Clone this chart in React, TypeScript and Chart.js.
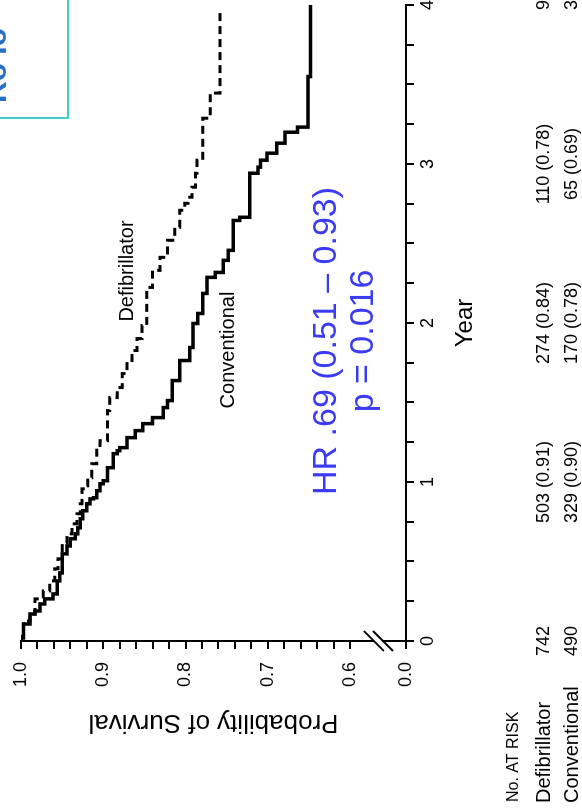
import React, { useEffect, useRef } from 'react';
import { Chart, registerables } from 'chart.js';

Chart.register(...registerables);

const FONT = '"Liberation Sans", Arial, Helvetica, sans-serif';

// Kaplan-Meier survival, Defibrillator group (dashed)
const DEFIB_YEARS = [0, 0.03, 0.126, 0.17, 0.265, 0.315, 0.378, 0.454, 0.517, 0.617, 0.674, 0.737, 0.8, 0.863, 0.957, 0.976, 1.027, 1.115, 1.216, 1.26, 1.449, 1.531, 1.594, 1.682, 1.764, 1.827, 1.902, 1.984, 2.224, 2.331, 2.413, 2.52, 2.602, 2.709, 2.753, 2.791, 2.854, 2.942, 3.024, 3.288, 3.446, 3.98];
const DEFIB_SURV = [1.0, 0.997, 0.989, 0.983, 0.973, 0.965, 0.959, 0.955, 0.95, 0.944, 0.938, 0.932, 0.928, 0.926, 0.922, 0.919, 0.914, 0.908, 0.904, 0.895, 0.892, 0.883, 0.877, 0.871, 0.865, 0.859, 0.853, 0.847, 0.84, 0.831, 0.822, 0.813, 0.807, 0.801, 0.797, 0.792, 0.788, 0.786, 0.779, 0.77, 0.758, 0.758];

// Kaplan-Meier survival, Conventional group (solid)
const CONV_YEARS = [0, 0.019, 0.107, 0.17, 0.189, 0.233, 0.265, 0.296, 0.378, 0.428, 0.548, 0.598, 0.643, 0.674, 0.712, 0.769, 0.819, 0.863, 0.894, 0.901, 0.945, 0.989, 1.008, 1.09, 1.178, 1.197, 1.216, 1.279, 1.323, 1.367, 1.405, 1.468, 1.512, 1.638, 1.764, 1.846, 1.997, 2.06, 2.186, 2.287, 2.318, 2.394, 2.457, 2.645, 2.665, 2.942, 2.98, 3.024, 3.068, 3.131, 3.2, 3.232, 3.55, 4.0];
const CONV_SURV = [1.0, 0.997, 0.989, 0.983, 0.977, 0.971, 0.961, 0.956, 0.953, 0.95, 0.944, 0.94, 0.934, 0.931, 0.928, 0.925, 0.92, 0.916, 0.912, 0.908, 0.904, 0.9, 0.895, 0.888, 0.883, 0.88, 0.871, 0.861, 0.852, 0.84, 0.827, 0.822, 0.816, 0.807, 0.795, 0.791, 0.785, 0.779, 0.774, 0.764, 0.754, 0.748, 0.742, 0.734, 0.722, 0.712, 0.709, 0.701, 0.689, 0.679, 0.664, 0.651, 0.648, 0.648];

const YEAR_TICKS = [0, 0.25, 0.5, 0.75, 1, 1.25, 1.5, 1.75, 2, 2.25, 2.5, 2.75, 3, 3.25, 3.5, 3.75, 4];
const YEAR_LABELS = ['0', '1', '2', '3', '4'];

// value 0.532 is the broken-axis position labelled "0.0"
const PROB_AXIS_ZERO = 0.532;
const PROB_TICKS = [0.532, 0.6, 0.62, 0.64, 0.66, 0.68, 0.7, 0.72, 0.74, 0.76, 0.78, 0.8, 0.82, 0.84, 0.86, 0.88, 0.9, 0.92, 0.94, 0.96, 0.98, 1.0];
const PROB_MAJOR = [0.6, 0.7, 0.8, 0.9, 1.0];

const AT_RISK_TITLE = 'No. AT RISK';
const AT_RISK_GROUPS = ['Defibrillator', 'Conventional'];
const AT_RISK_DEFIB = ['742', '503 (0.91)', '274 (0.84)', '110 (0.78)', '9'];
const AT_RISK_CONV = ['490', '329 (0.90)', '170 (0.78)', '65 (0.69)', '3'];

const HR_TEXT = 'HR .69 (0.51 \u2013 0.93)';
const P_TEXT = 'p = 0.016';
const BOX_TEXT = 'Ro Io';

const W = 811;
const H = 582;

const overlayPlugin = {
  id: 'overlay',
  afterDraw(chart: any) {
    const { ctx } = chart;
    const xs = chart.scales.x;
    const ys = chart.scales.y;
    const left = chart.chartArea.left;
    ctx.save();

    // axis break on the probability axis
    const gTop = ys.getPixelForValue(0.571);
    const gBot = ys.getPixelForValue(0.56);
    ctx.fillStyle = '#ffffff';
    ctx.fillRect(left - 6, gTop, 10, gBot - gTop);
    ctx.strokeStyle = '#000';
    ctx.lineWidth = 2;
    ctx.lineCap = 'butt';
    [gTop, gBot].forEach((yy) => {
      ctx.beginPath();
      ctx.moveTo(left + 10, yy - 10);
      ctx.lineTo(left - 10, yy + 10);
      ctx.stroke();
    });

    // curve labels
    ctx.fillStyle = '#000';
    ctx.textAlign = 'center';
    ctx.textBaseline = 'middle';
    ctx.font = `20px ${FONT}`;
    ctx.fillText('Defibrillator', xs.getPixelForValue(2.327), ys.getPixelForValue(0.87));
    ctx.fillText('Conventional', xs.getPixelForValue(1.83), ys.getPixelForValue(0.748));

    // hazard ratio annotation
    ctx.fillStyle = '#3b3bf2';
    ctx.font = `34px ${FONT}`;
    ctx.fillText(HR_TEXT, xs.getPixelForValue(1.887), ys.getPixelForValue(0.628));
    ctx.fillText(P_TEXT, xs.getPixelForValue(1.887), ys.getPixelForValue(0.583));

    // number at risk table
    const rowY = [514, 544, 572];
    ctx.fillStyle = '#000';
    ctx.textAlign = 'left';
    ctx.font = `16px ${FONT}`;
    ctx.fillText(AT_RISK_TITLE, 9, rowY[0]);
    ctx.font = `20px ${FONT}`;
    ctx.fillText(AT_RISK_GROUPS[0], 8, rowY[1]);
    ctx.fillText(AT_RISK_GROUPS[1], 8, rowY[2]);
    ctx.textAlign = 'center';
    ctx.font = `18px ${FONT}`;
    AT_RISK_DEFIB.forEach((t, i) => ctx.fillText(t, xs.getPixelForValue(i), rowY[1]));
    AT_RISK_CONV.forEach((t, i) => ctx.fillText(t, xs.getPixelForValue(i), rowY[2]));

    // partially visible slide title box
    ctx.strokeStyle = '#3fcfc6';
    ctx.lineWidth = 2;
    ctx.strokeRect(693, -20, 200, 88);
    ctx.fillStyle = '#2a6fc6';
    ctx.textAlign = 'left';
    ctx.textBaseline = 'alphabetic';
    ctx.font = `bold 30px ${FONT}`;
    ctx.fillText(BOX_TEXT, 708, 6);

    ctx.restore();
  },
};

export default function App() {
  const ref = useRef<HTMLCanvasElement | null>(null);

  useEffect(() => {
    document.body.style.margin = '0';
    document.documentElement.style.overflow = 'hidden';
    const canvas = ref.current;
    if (!canvas) return;
    const chart = new Chart(canvas, {
      type: 'line',
      data: {
        datasets: [
          {
            label: 'Defibrillator',
            data: DEFIB_YEARS.map((t, i) => ({ x: t, y: DEFIB_SURV[i] })),
            borderColor: '#000',
            borderWidth: 3,
            borderDash: [8, 5],
            stepped: 'before',
            pointRadius: 0,
            fill: false,
          },
          {
            label: 'Conventional',
            data: CONV_YEARS.map((t, i) => ({ x: t, y: CONV_SURV[i] })),
            borderColor: '#000',
            borderWidth: 3.5,
            stepped: 'before',
            pointRadius: 0,
            fill: false,
          },
        ],
      },
      options: {
        responsive: false,
        animation: false,
        devicePixelRatio: 1,
        layout: { padding: { top: 21, right: 5, left: 0, bottom: 0 } },
        plugins: { legend: { display: false }, tooltip: { enabled: false } },
        scales: {
          x: {
            type: 'linear',
            min: 0,
            max: 4,
            afterBuildTicks: (s: any) => {
              s.ticks = YEAR_TICKS.map((v) => ({ value: v }));
            },
            afterFit: (s: any) => {
              s.height = H - 406;
              s.paddingLeft = 0;
              s.paddingRight = 0;
            },
            ticks: {
              autoSkip: false,
              maxRotation: 0,
              padding: 3,
              color: '#000',
              font: { family: FONT, size: 18 },
              callback: (v: any) => (Number.isInteger(v) ? YEAR_LABELS[v] : ''),
            },
            grid: { drawOnChartArea: false, drawTicks: true, tickLength: 8, color: '#000', lineWidth: 2 },
            border: { display: true, color: '#000', width: 2 },
            title: {
              display: true,
              text: 'Year',
              color: '#000',
              font: { family: FONT, size: 24 },
              padding: { top: 0, bottom: 102 },
            },
          },
          y: {
            type: 'linear',
            min: PROB_AXIS_ZERO,
            max: 1.0,
            afterBuildTicks: (s: any) => {
              s.ticks = PROB_TICKS.map((v) => ({ value: v }));
            },
            afterFit: (s: any) => {
              s.width = 170;
              s.paddingTop = 0;
              s.paddingBottom = 0;
            },
            ticks: {
              autoSkip: false,
              padding: 13,
              color: '#000',
              font: { family: FONT, size: 18 },
              callback: (v: any) => {
                if (v === PROB_AXIS_ZERO) return '0.0';
                return PROB_MAJOR.some((m) => Math.abs(m - v) < 1e-6) ? v.toFixed(1) : '';
              },
            },
            grid: { drawOnChartArea: false, drawTicks: true, tickLength: 8, color: '#000', lineWidth: 2 },
            border: { display: true, color: '#000', width: 2 },
            title: {
              display: true,
              text: 'Probability of Survival',
              color: '#000',
              font: { family: FONT, size: 26 },
              padding: { top: 73, bottom: 0 },
            },
          },
        },
      },
      plugins: [overlayPlugin],
    } as any);
    return () => chart.destroy();
  }, []);

  return (
    <div
      style={{
        position: 'fixed',
        left: 0,
        top: 0,
        width: W,
        height: H,
        background: '#fff',
        transformOrigin: '0 0',
        transform: `translate(0px, ${W}px) rotate(-90deg)`,
      }}
    >
      <canvas ref={ref} width={W} height={H} style={{ display: 'block', width: W, height: H }} />
    </div>
  );
}
